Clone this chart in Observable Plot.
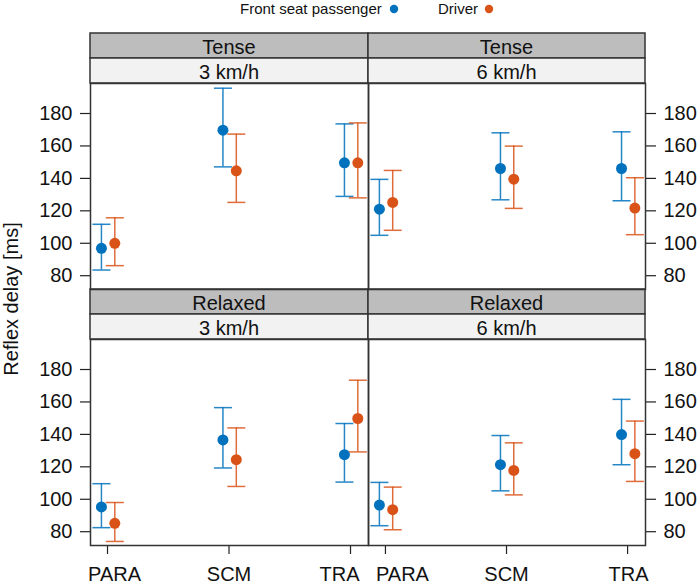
<!DOCTYPE html>
<html><head><meta charset="utf-8">
<script src="https://cdn.jsdelivr.net/npm/d3@7"></script>
<script src="https://cdn.jsdelivr.net/npm/@observablehq/plot@0.6"></script>
<style>
body{margin:0;background:#fff;}
#chart{position:relative;width:700px;height:584px;overflow:hidden;font-family:"Liberation Sans",Arial,sans-serif;}
#chart svg{position:absolute;}
</style></head><body><div id="chart"></div>
<script>
// ---- data ----
const categories = ["PARA", "SCM", "TRA"];
const seriesNames = ["Front seat passenger", "Driver"];
const seriesColors = ["#0072BD", "#D95319"];
const conditions = ["Tense", "Relaxed"];
const speeds = ["3 km/h", "6 km/h"];
const yTicks = [80, 100, 120, 140, 160, 180];

// Tense, 3 km/h
const tense3PassengerMean = [96.9, 169.7, 149.6];
const tense3PassengerLow  = [83.5, 147.1, 128.9];
const tense3PassengerHigh = [111.7, 195.6, 173.6];
const tense3DriverMean = [100.0, 144.7, 149.6];
const tense3DriverLow  = [86.2, 125.2, 128.0];
const tense3DriverHigh = [115.7, 167.3, 174.2];
// Tense, 6 km/h
const tense6PassengerMean = [121.0, 146.1, 146.1];
const tense6PassengerLow  = [104.9, 126.8, 126.2];
const tense6PassengerHigh = [139.4, 168.1, 168.7];
const tense6DriverMean = [125.2, 139.5, 121.7];
const tense6DriverLow  = [108.0, 121.5, 105.3];
const tense6DriverHigh = [144.9, 159.9, 140.4];
// Relaxed, 3 km/h
const relaxed3PassengerMean = [95.3, 136.6, 127.5];
const relaxed3PassengerLow  = [82.5, 119.3, 110.6];
const relaxed3PassengerHigh = [109.6, 156.5, 146.7];
const relaxed3DriverMean = [85.2, 124.4, 149.8];
const relaxed3DriverLow  = [74.0, 107.9, 129.2];
const relaxed3DriverHigh = [98.0, 144.0, 173.4];
// Relaxed, 6 km/h
const relaxed6PassengerMean = [96.4, 121.3, 139.9];
const relaxed6PassengerLow  = [83.7, 105.2, 121.3];
const relaxed6PassengerHigh = [110.4, 139.3, 161.6];
const relaxed6DriverMean = [93.6, 117.8, 128.1];
const relaxed6DriverLow  = [81.2, 102.7, 111.0];
const relaxed6DriverHigh = [107.5, 134.8, 148.2];

const panelSeries = {
  "Tense|3 km/h": [[tense3PassengerMean, tense3PassengerLow, tense3PassengerHigh], [tense3DriverMean, tense3DriverLow, tense3DriverHigh]],
  "Tense|6 km/h": [[tense6PassengerMean, tense6PassengerLow, tense6PassengerHigh], [tense6DriverMean, tense6DriverLow, tense6DriverHigh]],
  "Relaxed|3 km/h": [[relaxed3PassengerMean, relaxed3PassengerLow, relaxed3PassengerHigh], [relaxed3DriverMean, relaxed3DriverLow, relaxed3DriverHigh]],
  "Relaxed|6 km/h": [[relaxed6PassengerMean, relaxed6PassengerLow, relaxed6PassengerHigh], [relaxed6DriverMean, relaxed6DriverLow, relaxed6DriverHigh]]
};

// ---- layout ----
const FONT = '"Liberation Sans", Arial, sans-serif';
const FS = 20;
const dodge = [-0.05, 0.06];
const labelShift = [[7, 0, -11], [17, 0, 1]]; // px nudges of x tick labels per column
const colX = [90, 368, 645];
const rowY = [{strip: 33, plot: 83, bottom: 289}, {strip: 289, plot: 339, bottom: 545}];
const stripH = 25;
const chart = document.getElementById("chart");

// background layer: legend, strips, y title
const bg = d3.select(chart).append("svg").attr("width", 700).attr("height", 584)
  .style("left", "0px").style("top", "0px").style("font-family", FONT);

// legend
const legendItems = [{x: 240, dot: 394}, {x: 438, dot: 489}];
seriesNames.forEach((name, i) => {
  bg.append("text").attr("x", legendItems[i].x).attr("y", 14).attr("font-size", 15).attr("fill", "#111").text(name);
  bg.append("circle").attr("cx", legendItems[i].dot).attr("cy", 9).attr("r", 4.2).attr("fill", seriesColors[i]);
});

// y title
bg.append("text").attr("transform", "translate(18,299) rotate(-90)").attr("text-anchor", "middle")
  .attr("font-size", FS).attr("fill", "#111").text("Reflex delay [ms]");

// strips
conditions.forEach((cond, r) => {
  speeds.forEach((sp, c) => {
    const x0 = colX[c], x1 = colX[c + 1], y0 = rowY[r].strip;
    [[cond, "#bdbdbd", y0], [sp, "#f2f2f2", y0 + stripH]].forEach(([label, fill, y]) => {
      bg.append("rect").attr("x", x0).attr("y", y).attr("width", x1 - x0).attr("height", stripH)
        .attr("fill", fill).attr("stroke", "#333").attr("stroke-width", 1.5);
      bg.append("text").attr("x", (x0 + x1) / 2).attr("y", y + 20.5).attr("text-anchor", "middle")
        .attr("font-size", FS).attr("fill", "#111").text(label);
    });
  });
});

const capSymbol = {
  draw(ctx, size) { const h = Math.sqrt(size / Math.PI); ctx.moveTo(-h, 0); ctx.lineTo(h, 0); }
};

function panel(r, c) {
  const cond = conditions[r], sp = speeds[c];
  const rows = [];
  panelSeries[cond + "|" + sp].forEach(([mean, low, high], s) => {
    categories.forEach((cat, i) => {
      rows.push({series: seriesNames[s], cat, x: i + 1 + dodge[s], mean: mean[i], low: low[i], high: high[i]});
    });
  });
  const pad = 12;
  const W = colX[c + 1] - colX[c];
  const H = rowY[r].bottom - rowY[r].plot;
  const yAnchor = c === 0 ? "left" : "right";
  const ml = c === 0 ? colX[0] : pad;
  const mr = c === 1 ? 700 - colX[2] : pad;
  const mb = r === 1 ? 584 - rowY[1].bottom : pad;
  const xLabels = r === 1 ? categories.map((cat, i) =>
    Plot.text([cat], {x: () => i + 1, text: d => d, frameAnchor: "bottom", lineAnchor: "top",
      dy: 21, dx: labelShift[c][i], fontSize: FS, fill: "#111", textAnchor: "middle"})) : [];
  const svg = Plot.plot({
    width: ml + W + mr, height: pad + H + mb,
    marginLeft: ml, marginRight: mr, marginTop: pad, marginBottom: mb,
    style: {background: "transparent", fontFamily: FONT, fontSize: FS + "px", color: "#111", overflow: "visible"},
    x: {domain: [0.86, 3.148], axis: null},
    y: {domain: [71.5, 198.5], axis: null},
    color: {domain: seriesNames, range: seriesColors},
    marks: [
      Plot.axisY({anchor: yAnchor, ticks: yTicks, tickSize: 10, tickPadding: 8, label: null, fontSize: FS, stroke: "#222", strokeWidth: 1.2}),
      r === 1 ? Plot.axisX({ticks: [1, 2, 3], tickFormat: () => "", tickSize: 9, label: null, stroke: "#222", strokeWidth: 1.2}) : null,
      ...xLabels,
      Plot.ruleX(rows, {x: "x", y1: "low", y2: "high", stroke: "series", strokeWidth: 1.5, strokeOpacity: 0.85}),
      Plot.dot(rows, {x: "x", y: "low", symbol: capSymbol, r: 9, fill: "none", stroke: "series", strokeWidth: 1.5, strokeOpacity: 0.85}),
      Plot.dot(rows, {x: "x", y: "high", symbol: capSymbol, r: 9, fill: "none", stroke: "series", strokeWidth: 1.5, strokeOpacity: 0.85}),
      Plot.dot(rows, {x: "x", y: "mean", r: 5.5, fill: "series", stroke: "none"}),
      Plot.frame({stroke: "#333", strokeWidth: 1.5})
    ]
  });
  svg.style.left = (c === 0 ? 0 : colX[c] - pad) + "px";
  svg.style.top = (rowY[r].plot - pad) + "px";
  chart.appendChild(svg);
}
[0, 1].forEach(r => [0, 1].forEach(c => panel(r, c)));
</script></body></html>
